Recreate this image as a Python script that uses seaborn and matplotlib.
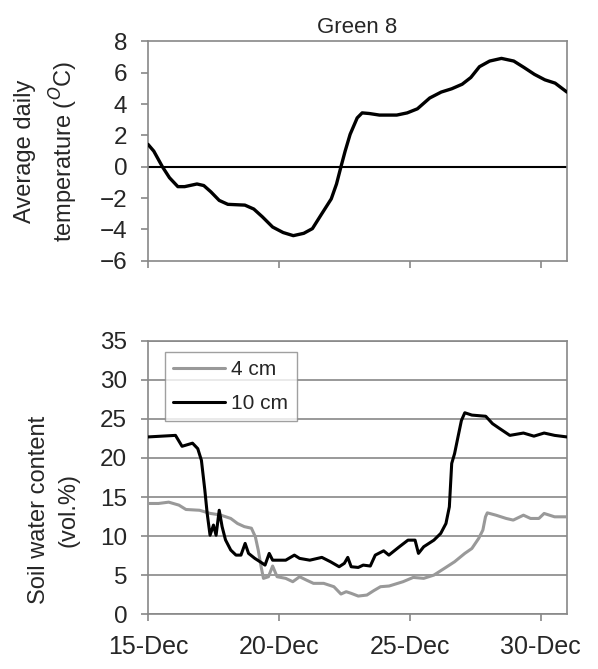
import matplotlib
matplotlib.use("Agg")
import matplotlib.pyplot as plt
import seaborn as sns
import pandas as pd

# days since 15-Dec
temp_day = [0, 0.22, 0.55, 0.82, 1.14, 1.4, 1.87, 2.13, 2.4, 2.72, 3.05, 3.7, 4.04,
            4.37, 4.76, 5.16, 5.55, 5.95, 6.28, 6.6, 7.0, 7.2, 7.37, 7.53, 7.72, 7.99,
            8.18, 8.45, 8.84, 9.5, 9.9, 10.29, 10.76, 11.2, 11.6, 12.0, 12.33, 12.66,
            13.05, 13.5, 13.97, 14.37, 14.76, 15.16, 15.55, 16.0]
temp_val = [1.43, 1.0, 0.0, -0.7, -1.27, -1.27, -1.1, -1.2, -1.6, -2.15, -2.4, -2.45, -2.7,
            -3.2, -3.85, -4.2, -4.4, -4.25, -3.95, -3.1, -2.05, -1.1, 0.0, 1.0, 2.07, 3.12,
            3.44, 3.4, 3.3, 3.3, 3.44, 3.7, 4.39, 4.77, 4.98, 5.27, 5.7, 6.39,
            6.75, 6.92, 6.75, 6.33, 5.9, 5.55, 5.34, 4.77]

swc10_day = [0, 1.05, 1.3, 1.7, 1.9, 2.04, 2.17, 2.26, 2.37, 2.5, 2.6, 2.72, 2.83, 2.96,
             3.16, 3.36, 3.55, 3.71, 3.84, 4.08, 4.34, 4.47, 4.63, 4.76, 5.26, 5.59, 5.79,
             6.18, 6.64, 6.97, 7.3, 7.5, 7.63, 7.76, 8.03, 8.22, 8.49, 8.68, 9.0, 9.2, 9.6,
             9.93, 10.2, 10.33, 10.53, 10.92, 11.18, 11.38, 11.51, 11.6, 11.71, 11.84,
             11.97, 12.1, 12.37, 12.9, 13.16, 13.42, 13.82, 14.34, 14.74, 15.13, 15.53, 16.0]
swc10_val = [22.7, 22.9, 21.5, 21.9, 21.2, 19.7, 15.9, 12.9, 10.1, 11.4, 10.1, 13.3, 11.2, 9.5,
             8.2, 7.55, 7.55, 9.05, 7.77, 7.13, 6.57, 6.27, 7.77, 6.9, 6.9, 7.55, 7.13,
             6.9, 7.26, 6.7, 6.06, 6.5, 7.26, 6.06, 5.97, 6.27, 6.15, 7.55, 8.1, 7.55, 8.62,
             9.47, 9.47, 7.77, 8.62, 9.47, 10.33, 11.6, 13.74, 19.3, 20.57, 22.7,
             24.8, 25.8, 25.5, 25.35, 24.4, 23.8, 22.9, 23.2, 22.8, 23.2, 22.9, 22.7]

swc4_day = [0, 0.4, 0.79, 1.18, 1.45, 1.97, 2.37, 2.76, 3.16, 3.42, 3.68, 3.95, 4.1, 4.21,
            4.32, 4.41, 4.6, 4.76, 4.93, 5.26, 5.53, 5.79, 6.05, 6.32, 6.71, 7.1, 7.37, 7.57,
            7.76, 8.03, 8.36, 8.62, 8.88, 9.21, 9.74, 10.13, 10.53, 10.92, 11.32, 11.71,
            12.1, 12.37, 12.63, 12.79, 12.89, 12.96, 13.29, 13.68, 13.95, 14.34, 14.61,
            14.93, 15.13, 15.53, 16.0]
swc4_val = [14.17, 14.17, 14.34, 13.96, 13.4, 13.3, 12.9, 12.7, 12.25, 11.6, 11.2, 11.0, 9.9, 8.2,
            6.06, 4.57, 4.78, 6.15, 4.78, 4.57, 4.14, 4.78, 4.35, 3.93, 3.93, 3.5, 2.56, 2.86,
            2.65, 2.3, 2.43, 2.99, 3.5, 3.59, 4.14, 4.69, 4.57, 4.99, 5.85, 6.7,
            7.77, 8.4, 9.69, 10.76, 12.46, 12.97, 12.67, 12.25, 12.04, 12.67, 12.25,
            12.25, 12.89, 12.46, 12.46]

tick_days = [0, 5, 10, 15]
tick_labels = ["15-Dec", "20-Dec", "25-Dec", "30-Dec"]

sns.set_style("white")
plt.rcParams['font.family'] = ['Liberation Sans', 'DejaVu Sans']

fig = plt.figure(figsize=(5.98, 6.69), dpi=100)
ax1 = fig.add_axes([0.2475, 0.6103, 0.7005, 0.3277])
ax2 = fig.add_axes([0.2475, 0.0822, 0.7005, 0.4081])

spine_col = '#888888'

# top panel: temperature
df_t = pd.DataFrame({'day': temp_day, 'temp': temp_val})
ax1.axhline(0, color='black', lw=1.5, zorder=1)
sns.lineplot(data=df_t, x='day', y='temp', ax=ax1, color='black', lw=2.4, zorder=3)
ax1.set_xlim(0, 16)
ax1.set_ylim(-6, 8)
ax1.set_yticks(range(-6, 9, 2))
ax1.set_xticks(tick_days)
ax1.set_xticklabels([])
ax1.set_xlabel('')
ax1.set_ylabel('Average daily\ntemperature ($^O$C)', fontsize=17, linespacing=1.45)
ax1.yaxis.set_label_coords(-0.163, 0.5)
ax1.set_title('Green 8', fontsize=16, pad=6)

# bottom panel: soil water content
df_s = pd.concat([
    pd.DataFrame({'day': swc4_day, 'swc': swc4_val, 'depth': '4 cm'}),
    pd.DataFrame({'day': swc10_day, 'swc': swc10_val, 'depth': '10 cm'}),
])
sns.lineplot(data=df_s, x='day', y='swc', hue='depth', ax=ax2,
             palette={'4 cm': '#999999', '10 cm': 'black'}, lw=2.2, zorder=3)
ax2.set_xlim(0, 16)
ax2.set_ylim(0, 35)
ax2.set_yticks(range(0, 36, 5))
ax2.set_xticks(tick_days)
ax2.set_xticklabels(tick_labels)
ax2.yaxis.grid(True, color='#888888', lw=1.2)
ax2.set_axisbelow(True)
ax2.set_xlabel('')
ax2.set_ylabel('Soil water content\n(vol.%)', fontsize=17, linespacing=1.45)
ax2.yaxis.set_label_coords(-0.163, 0.38)
leg = ax2.legend(loc='upper left', bbox_to_anchor=(0.04, 0.96), fontsize=15,
                 frameon=True, fancybox=False, handlelength=2.5, handletextpad=0.3,
                 borderpad=0.4, labelspacing=0.7, borderaxespad=0)
leg.get_frame().set_edgecolor('#888888')
leg.get_frame().set_linewidth(1.0)

for ax in (ax1, ax2):
    for s in ax.spines.values():
        s.set_color(spine_col)
        s.set_linewidth(1.2)
    ax.tick_params(axis='both', which='both', direction='out', length=5, width=1.2,
                   color=spine_col, labelsize=17.5, left=True, bottom=True, pad=10)
    ax.tick_params(axis='x', labelsize=18, pad=10)

fig.savefig('out.png', dpi=100)
